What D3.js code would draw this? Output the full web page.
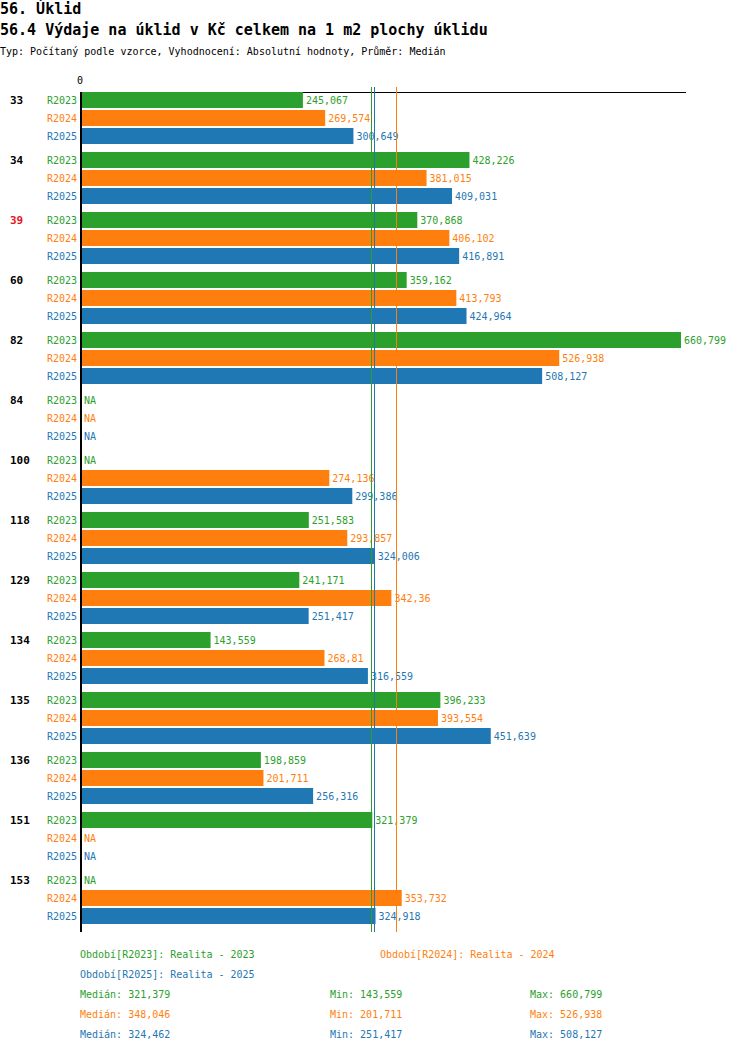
<!DOCTYPE html>
<html><head><meta charset="utf-8">
<script src="https://cdn.jsdelivr.net/npm/d3@7"></script>
<style>
body{margin:0;background:#fff;}
text{font-family:"DejaVu Sans Mono","Liberation Mono",monospace;}
</style></head>
<body><svg id="c" width="750" height="1052"></svg>
<script>
const title1 = "56. Úklid";
const title2 = "56.4 Výdaje na úklid v Kč celkem na 1 m2 plochy úklidu";
const subtitle = "Typ: Počítaný podle vzorce, Vyhodnocení: Absolutní hodnoty, Průměr: Medián";
const groups = ["33","34","39","60","82","84","100","118","129","134","135","136","151","153"];
const highlighted = ["39"];
const seriesNames = ["R2023","R2024","R2025"];
const seriesLegend = ["Období[R2023]: Realita - 2023","Období[R2024]: Realita - 2024","Období[R2025]: Realita - 2025"];
const colors = ["#2ca02c","#ff7f0e","#1f77b4"];
const r2023 = [245.067,428.226,370.868,359.162,660.799,null,null,251.583,241.171,143.559,396.233,198.859,321.379,null];
const r2024 = [269.574,381.015,406.102,413.793,526.938,null,274.136,293.857,342.36,268.81,393.554,201.711,null,353.732];
const r2025 = [300.649,409.031,416.891,424.964,508.127,null,299.386,324.006,251.417,316.559,451.639,256.316,null,324.918];
const seriesValues = [r2023,r2024,r2025];

const svg = d3.select("#c");
const fmt = v => String(+v.toFixed(3)).replace(".", ",");

svg.append("text").attr("x",0).attr("y",14).attr("font-size",15).attr("font-weight","bold").text(title1);
svg.append("text").attr("x",0).attr("y",35).attr("font-size",15).attr("font-weight","bold").text(title2);
svg.append("text").attr("x",0).attr("y",55).attr("font-size",10).text(subtitle);

const maxV = d3.max(seriesValues.flat());
const x = d3.scaleLinear().domain([0, maxV]).range([80, 681]);
const axisTop = 92, groupStep = 60, rowStep = 18, barH = 16;
const rowY = (g, s) => axisTop + 8 + g*groupStep + s*rowStep;
const axisBottom = rowY(groups.length-1, 2) + 16;

// axis top line
svg.append("line").attr("x1",80).attr("x2",686).attr("y1",axisTop+0.5).attr("y2",axisTop+0.5)
  .attr("stroke","#000").attr("stroke-width",1);
svg.append("text").attr("x",x(0)).attr("y",axisTop-8).attr("font-size",10).attr("text-anchor","middle").text("0");

// group labels, bars
groups.forEach((g,i)=>{
  svg.append("text").attr("x",10).attr("y",rowY(i,0)).attr("dy","0.35em")
    .attr("font-size",11).attr("font-weight","bold")
    .attr("fill", highlighted.includes(g) ? "#e8141c" : "#000").text(g);
  seriesNames.forEach((s,j)=>{
    svg.append("text").attr("x",77).attr("y",rowY(i,j)).attr("dy","0.35em")
      .attr("font-size",10).attr("text-anchor","end").attr("fill",colors[j]).text(s);
    const v = seriesValues[j][i];
    if (v == null) {
      svg.append("text").attr("x",84).attr("y",rowY(i,j)).attr("dy","0.35em")
        .attr("font-size",10).attr("fill",colors[j]).text("NA");
    } else {
      svg.append("rect").attr("x",x(0)).attr("y",rowY(i,j)-barH/2)
        .attr("width",x(v)-x(0)).attr("height",barH).attr("fill",colors[j]);
      svg.append("text").attr("x",x(v)+3).attr("y",rowY(i,j)).attr("dy","0.35em")
        .attr("font-size",10).attr("fill",colors[j]).text(fmt(v));
    }
  });
});

// median lines
seriesValues.forEach((vals,j)=>{
  const m = d3.median(vals.filter(v=>v!=null));
  const xm = Math.round(x(m)) - 0.5;
  svg.append("line").attr("x1",xm).attr("x2",xm)
    .attr("y1",axisTop-5).attr("y2",axisBottom).attr("stroke",colors[j]).attr("stroke-width",1);
});

// left axis
svg.append("line").attr("x1",81).attr("x2",81).attr("y1",axisTop).attr("y2",axisBottom)
  .attr("stroke","#000").attr("stroke-width",2);

// legend
const legPos = [[80,954],[380,954],[80,974]];
seriesLegend.forEach((t,j)=>{
  svg.append("text").attr("x",legPos[j][0]).attr("y",legPos[j][1]).attr("dy","0.35em")
    .attr("font-size",10).attr("fill",colors[j]).text(t);
});
seriesValues.forEach((vals,j)=>{
  const v = vals.filter(d=>d!=null);
  const y = 994 + j*20;
  svg.append("text").attr("x",80).attr("y",y).attr("dy","0.35em").attr("font-size",10).attr("fill",colors[j]).text("Medián: "+fmt(d3.median(v)));
  svg.append("text").attr("x",330).attr("y",y).attr("dy","0.35em").attr("font-size",10).attr("fill",colors[j]).text("Min: "+fmt(d3.min(v)));
  svg.append("text").attr("x",530).attr("y",y).attr("dy","0.35em").attr("font-size",10).attr("fill",colors[j]).text("Max: "+fmt(d3.max(v)));
});
</script></body></html>
